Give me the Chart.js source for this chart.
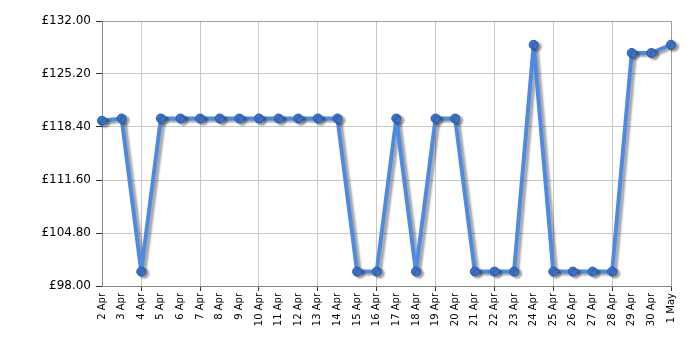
<!DOCTYPE html>
<html>
<head>
<meta charset="utf-8">
<script src="https://cdn.jsdelivr.net/npm/chart.js@4"></script>
<style>
  html, body { margin: 0; padding: 0; background: #fff; }
  #wrap { width: 700px; height: 350px; }
</style>
</head>
<body>
<div id="wrap"><canvas id="priceChart" width="700" height="350"></canvas></div>
<script>
const labels = ['2 Apr', '3 Apr', '4 Apr', '5 Apr', '6 Apr', '7 Apr', '8 Apr', '9 Apr', '10 Apr', '11 Apr',
    '12 Apr', '13 Apr', '14 Apr', '15 Apr', '16 Apr', '17 Apr', '18 Apr', '19 Apr', '20 Apr', '21 Apr',
    '22 Apr', '23 Apr', '24 Apr', '25 Apr', '26 Apr', '27 Apr', '28 Apr', '29 Apr', '30 Apr', '1 May'];
const prices = [119.2, 119.49, 99.85, 119.49, 119.49, 119.49, 119.49, 119.49, 119.49, 119.49,
    119.49, 119.49, 119.49, 99.85, 99.85, 119.49, 99.85, 119.49, 119.49, 99.85,
    99.85, 99.85, 128.95, 99.85, 99.85, 99.85, 99.85, 127.9, 127.9, 128.95];
const yTicks = [98, 104.8, 111.6, 118.4, 125.2, 132];

// grey drop shadow under the line and points
const shadowPlugin = {
    id: 'shadow',
    beforeDatasetsDraw(chart) {
        const ctx = chart.ctx;
        ctx.save();
        ctx.shadowColor = 'rgba(0,0,0,0.35)';
        ctx.shadowOffsetX = 3;
        ctx.shadowOffsetY = 2;
        ctx.shadowBlur = 2;
    },
    afterDatasetsDraw(chart) {
        chart.ctx.restore();
    }
};

const isGridDay = i => i >= 2 && (i - 2) % 3 === 0;

new Chart(document.getElementById('priceChart').getContext('2d'), {
    type: 'line',
    data: {
        labels: labels,
        datasets: [{
            data: prices,
            borderColor: '#4d8ae4',
            borderWidth: 4,
            borderJoinStyle: 'round',
            borderCapStyle: 'round',
            tension: 0,
            pointRadius: 4.5,
            pointBackgroundColor: '#3b74cf',
            pointBorderColor: '#2a5aa6',
            pointBorderWidth: 1,
            clip: false
        }]
    },
    options: {
        responsive: false,
        animation: false,
        layout: { padding: { left: 0, top: 21, right: 29, bottom: 0 } },
        plugins: { legend: { display: false }, tooltip: { enabled: false } },
        scales: {
            x: {
                afterFit: s => { s.height = 64; },
                grid: {
                    color: c => c.index === 29 ? '#a0a0a0' : (isGridDay(c.index) ? '#c8c8c8' : 'rgba(0,0,0,0)'),
                    tickColor: c => isGridDay(c.index) ? '#333' : 'rgba(0,0,0,0)',
                    tickLength: 5,
                    lineWidth: 1
                },
                border: { color: '#888', width: 1 },
                ticks: {
                    autoSkip: false,
                    minRotation: 90,
                    maxRotation: 90,
                    padding: 2,
                    color: '#000',
                    font: { family: 'DejaVu Sans', size: 10 }
                }
            },
            y: {
                min: 98,
                max: 132,
                afterFit: s => { s.width = 102; },
                afterBuildTicks: s => { s.ticks = yTicks.map(v => ({ value: v })); },
                grid: {
                    color: c => c.index === yTicks.length - 1 ? '#a0a0a0' : '#c8c8c8',
                    tickColor: '#333',
                    tickLength: 6
                },
                border: { color: '#888', width: 1 },
                ticks: {
                    padding: 5,
                    color: '#000',
                    font: { family: 'DejaVu Sans', size: 12 },
                    callback: v => '£' + Number(v).toFixed(2)
                }
            }
        }
    },
    plugins: [shadowPlugin]
});
</script>
</body>
</html>
